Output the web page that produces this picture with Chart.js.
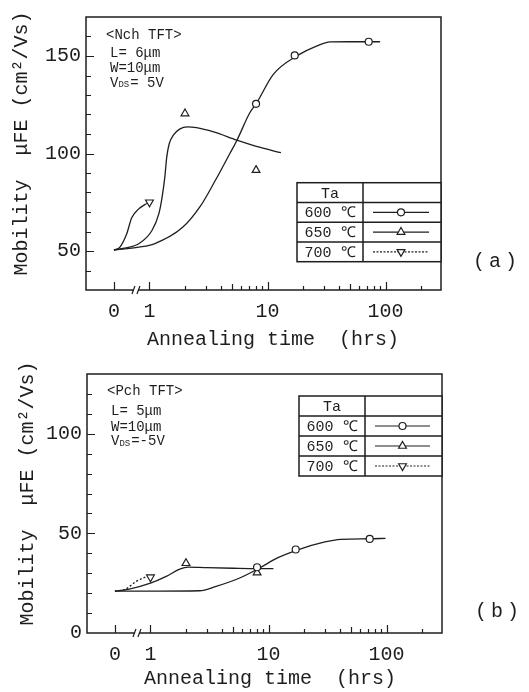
<!DOCTYPE html>
<html>
<head>
<meta charset="utf-8">
<title>Mobility vs annealing time</title>
<script src="https://cdn.jsdelivr.net/npm/chart.js@4.4.1/dist/chart.umd.min.js"></script>
<style>
  html, body { margin: 0; padding: 0; background: #fff; }
  #page { position: relative; width: 529px; height: 692px; overflow: hidden; }
  canvas { position: absolute; left: 0; }
  #chartA { top: 0; }
  #chartB { top: 350px; }
  .panel-tag { position: absolute; font: 20px 'Liberation Mono', 'DejaVu Sans Mono', monospace; letter-spacing: 4px; color: #1e1e1e; }
</style>
</head>
<body>
<div id="page">
  <canvas id="chartA" width="529" height="350"></canvas>
  <canvas id="chartB" width="529" height="342"></canvas>
  <div class="panel-tag" style="left:473px;top:250px">(a)</div>
  <div class="panel-tag" style="left:475px;top:600px">(b)</div>
</div>
<script>
// ---- data ----

// x axis: hours, "0" sits on the broken part left of 1
const xTickHours = [0, 1, 2, 3, 4, 5, 6, 7, 8, 9, 10, 20, 30, 40, 50, 60, 70, 80, 90, 100, 200];
const xTickLabels = { 0: '0', 1: '1', 10: '10', 100: '100' };
const tempLabels = ['600 ℃', '650 ℃', '700 ℃'];
const X_TITLE = 'Annealing time  (hrs)';
const Y_TITLE = 'Mobility  μFE (cm²/Vs)';

// (a) N-channel TFT
const nNotes = ['<Nch TFT>', 'L= 6μm', 'W=10μm', 'VDS= 5V'];
const nTime600 = [8, 17, 72];
const nMob600 = [125.5, 150.3, 157.3];
const nTime650 = [2, 8];
const nMob650 = [120.5, 91.5];
const nTime700 = [1];
const nMob700 = [75];

// fitted curves (a)
const nFitTime600 = [0, 0.7, 1.1, 1.9, 2.7, 3.6, 4.8, 5.5, 7.1, 8.1, 11.2, 18, 26, 34, 50, 90];
const nFitMob600 = [50.5, 52, 53.7, 62, 73, 86, 100, 106.7, 121, 126, 140.6, 150.3, 155.1, 157.2, 157.3, 157.3];
const nFitTime650 = [0, 0.3, 0.7, 1.05, 1.2, 1.28, 1.35, 1.4, 1.47, 1.6, 1.8, 2.1, 2.5, 3.5, 5.5, 8.7, 13];
const nFitMob650 = [50.5, 51.5, 53.7, 60.5, 69, 77.6, 88, 98, 105, 109.5, 112.5, 113.7, 113.3, 111.1, 106.9, 103.1, 100.4];
const nFitTime700 = [0, 0.17, 0.36, 0.5, 0.7, 0.87, 1];
const nFitMob700 = [50.5, 52, 58.8, 67, 71.6, 73.8, 75];

// (b) P-channel TFT
const pNotes = ['<Pch TFT>', 'L= 5μm', 'W=10μm', 'VDS=-5V'];
const pTime600 = [8, 17, 72];
const pMob600 = [33, 41.9, 47.2];
const pTime650 = [2, 8];
const pMob650 = [35, 30.3];
const pTime700 = [1];
const pMob700 = [28];

// fitted curves (b)
const pFitTime600 = [0, 1, 2.6, 3.6, 5.7, 8.4, 11.9, 18, 29.5, 41, 72, 98];
const pFitMob600 = [21, 21, 21.2, 23.4, 27.6, 32.6, 37.7, 41.9, 45.6, 47, 47.3, 47.5];
const pFitTime650 = [0, 0.4, 1, 1.36, 1.77, 2.1, 3, 5, 8, 11];
const pFitMob650 = [21, 22, 25, 28.4, 32.1, 33.1, 32.8, 32.5, 32.3, 32.3];
const pFitTime700 = [0, 0.3, 0.6, 0.87, 1];
const pFitMob700 = [21, 22, 25.9, 28.1, 28.8];

// ---- styling ----
const INK = '#1e1e1e';
const MONO = "'Liberation Mono', 'DejaVu Sans Mono', monospace";
const MARKERS = [
    { shape: 'circle', r: 3.5, rot: 0 },
    { shape: 'triangle', r: 4.5, rot: 0 },
    { shape: 'triangle', r: 4.5, rot: 180 }
];

// broken log axis: 0 h is drawn where 0.5 h would be, 0..1 h linear in between
const ZERO_AT = 0.5;
const X_MIN = 0.29;
const X_MAX = 295;

function axisPos(t) {
    return t >= 1 ? t : Math.pow(ZERO_AT, 1 - t);
}

function pts(xs, ys) {
    return xs.map((t, i) => ({ x: axisPos(t), y: ys[i] }));
}

function xLabelFor(v) {
    const h = xTickHours.find(h => Math.abs(axisPos(h) - v) < 1e-9);
    return h !== undefined && xTickLabels[h] ? xTickLabels[h] : '';
}

function markerSet(xs, ys, m) {
    return {
        data: pts(xs, ys),
        showLine: false,
        order: 0,
        pointStyle: m.shape,
        rotation: m.rot,
        pointRadius: m.r,
        pointHoverRadius: m.r,
        pointBackgroundColor: '#fff',
        pointBorderColor: INK,
        pointBorderWidth: 1.2
    };
}

function curveSet(xs, ys, dash) {
    return {
        data: pts(xs, ys),
        showLine: true,
        order: 1,
        pointRadius: 0,
        pointHoverRadius: 0,
        borderColor: INK,
        borderWidth: 1.3,
        borderDash: dash || [],
        cubicInterpolationMode: 'monotone'
    };
}

function drawMarker(ctx, m, x, y) {
    ctx.save();
    ctx.translate(x, y);
    ctx.rotate(m.rot * Math.PI / 180);
    ctx.beginPath();
    if (m.shape === 'circle') {
        ctx.arc(0, 0, m.r, 0, 2 * Math.PI);
    } else {
        ctx.moveTo(0, -m.r);
        ctx.lineTo(m.r * 0.866, m.r * 0.5);
        ctx.lineTo(-m.r * 0.866, m.r * 0.5);
        ctx.closePath();
    }
    ctx.setLineDash([]);
    ctx.fillStyle = '#fff';
    ctx.fill();
    ctx.lineWidth = 1.2;
    ctx.strokeStyle = INK;
    ctx.stroke();
    ctx.restore();
}

function drawNote(ctx, text, x, y) {
    ctx.font = '14px ' + MONO;
    if (text.startsWith('VDS')) {
        ctx.fillText('V', x, y);
        let w = ctx.measureText('V').width;
        ctx.font = '9px ' + MONO;
        ctx.fillText('DS', x + w, y + 2);
        w += ctx.measureText('DS').width + 1;
        ctx.font = '14px ' + MONO;
        ctx.fillText(text.slice(3), x + w, y);
    } else {
        ctx.fillText(text, x, y);
    }
}

// frame, inward ticks, axis break, legend table, notes and titles
const paperFrame = {
    id: 'paperFrame',
    afterDraw(chart, args, o) {
        const { ctx, chartArea: a } = chart;
        const xs = chart.scales.x;
        const ys = chart.scales.y;
        ctx.save();
        ctx.strokeStyle = INK;
        ctx.lineWidth = 1.5;
        ctx.strokeRect(a.left, a.top, a.right - a.left, a.bottom - a.top);

        ctx.lineWidth = 1.2;
        ctx.beginPath();
        xTickHours.forEach(h => {
            const px = Math.round(xs.getPixelForValue(axisPos(h))) + 0.5;
            const len = xTickLabels[h] ? 8 : (h === 5 || h === 50 ? 6 : 4);
            ctx.moveTo(px, a.bottom);
            ctx.lineTo(px, a.bottom - len);
        });
        ys.ticks.forEach(tk => {
            if (tk.value <= ys.min || tk.value >= ys.max) return;
            const py = Math.round(ys.getPixelForValue(tk.value)) + 0.5;
            const len = tk.value % 50 === 0 ? 8 : 5;
            ctx.moveTo(a.left, py);
            ctx.lineTo(a.left + len, py);
        });
        ctx.stroke();

        // axis break between 0 and 1
        const bx = xs.getPixelForValue(axisPos(0.62));
        ctx.fillStyle = '#fff';
        ctx.fillRect(bx - 2, a.bottom - 3, 4, 6);
        ctx.beginPath();
        ctx.moveTo(bx - 4, a.bottom + 4);
        ctx.lineTo(bx - 1, a.bottom - 4);
        ctx.moveTo(bx + 1, a.bottom + 4);
        ctx.lineTo(bx + 4, a.bottom - 4);
        ctx.stroke();

        // legend table
        const L = o.legend;
        const lx = a.right - L.width;
        const ly = L.top;
        const rh = L.height / 4;
        ctx.fillStyle = '#fff';
        ctx.fillRect(lx, ly, L.width, L.height);
        ctx.lineWidth = 1.5;
        ctx.strokeRect(lx, ly, L.width, L.height);
        ctx.beginPath();
        for (let i = 1; i < 4; i++) {
            ctx.moveTo(lx, ly + i * rh);
            ctx.lineTo(lx + L.width, ly + i * rh);
        }
        ctx.moveTo(lx + L.split, ly);
        ctx.lineTo(lx + L.split, ly + L.height);
        ctx.stroke();

        ctx.fillStyle = INK;
        ctx.font = '15px ' + MONO;
        ctx.textAlign = 'center';
        ctx.textBaseline = 'middle';
        ctx.fillText('Ta', lx + L.split / 2, ly + rh / 2 + 1);
        tempLabels.forEach((lab, i) => {
            const cy = ly + (i + 1.5) * rh;
            ctx.fillStyle = INK;
            ctx.font = '15px ' + MONO;
            ctx.fillText(lab, lx + L.split / 2, cy + 1);
            const x0 = lx + L.split + 10;
            const x1 = lx + L.width - 12;
            ctx.lineWidth = 1.1;
            ctx.setLineDash(i === 2 ? [2, 1.5] : []);
            ctx.beginPath();
            ctx.moveTo(x0, cy);
            ctx.lineTo(x1, cy);
            ctx.stroke();
            drawMarker(ctx, MARKERS[i], (x0 + x1) / 2, cy);
        });
        ctx.setLineDash([]);

        // sample notes
        ctx.fillStyle = INK;
        ctx.textAlign = 'left';
        o.notes.forEach((n, i) => drawNote(ctx, n, a.left + o.noteDx[i], a.top + o.noteDy[i]));

        // axis titles
        ctx.font = '20px ' + MONO;
        ctx.textAlign = 'center';
        ctx.fillText(X_TITLE, o.xTitle[0], o.xTitle[1]);
        ctx.translate(o.yTitle[0], o.yTitle[1]);
        ctx.rotate(-Math.PI / 2);
        ctx.fillText(Y_TITLE, 0, 0);
        ctx.restore();
    }
};

function makeChart(id, cfg) {
    return new Chart(document.getElementById(id), {
        type: 'scatter',
        data: { datasets: cfg.datasets },
        options: {
            responsive: false,
            animation: false,
            events: [],
            layout: { padding: cfg.padding },
            plugins: {
                legend: { display: false },
                tooltip: { enabled: false },
                paperFrame: cfg.frame
            },
            scales: {
                x: {
                    type: 'logarithmic',
                    min: X_MIN,
                    max: X_MAX,
                    bounds: 'data',
                    grid: { display: false, drawTicks: false },
                    border: { display: false },
                    afterBuildTicks: s => { s.ticks = xTickHours.map(h => ({ value: axisPos(h) })); },
                    afterFit: s => { s.height = cfg.xAxisHeight; },
                    ticks: {
                        autoSkip: false,
                        maxRotation: 0,
                        padding: 10,
                        color: INK,
                        font: { family: MONO, size: 20 },
                        callback: v => xLabelFor(v)
                    }
                },
                y: {
                    min: cfg.yMin,
                    max: cfg.yMax,
                    grid: { display: false, drawTicks: false },
                    border: { display: false },
                    afterFit: s => { s.width = cfg.yAxisWidth; },
                    ticks: {
                        stepSize: 10,
                        autoSkip: false,
                        padding: 5,
                        color: INK,
                        font: { family: MONO, size: 20 },
                        callback: v => (v % 50 === 0 ? String(v) : '')
                    }
                }
            }
        },
        plugins: [paperFrame]
    });
}

makeChart('chartA', {
    yMin: 30, yMax: 170,
    padding: { left: 0, top: 17, right: 88, bottom: 0 },
    yAxisWidth: 86,
    xAxisHeight: 60,
    datasets: [
        curveSet(nFitTime600, nFitMob600),
        curveSet(nFitTime650, nFitMob650),
        curveSet(nFitTime700, nFitMob700),
        markerSet(nTime600, nMob600, MARKERS[0]),
        markerSet(nTime650, nMob650, MARKERS[1]),
        markerSet(nTime700, nMob700, MARKERS[2])
    ],
    frame: {
        legend: { top: 182.7, width: 144, height: 79, split: 66 },
        notes: nNotes,
        noteDx: [20, 24, 24, 24],
        noteDy: [18, 36, 51, 66],
        xTitle: [273, 340],
        yTitle: [22, 143.5]
    }
});

makeChart('chartB', {
    yMin: 0, yMax: 130,
    padding: { left: 0, top: 24, right: 87, bottom: 0 },
    yAxisWidth: 87,
    xAxisHeight: 59,
    datasets: [
        curveSet(pFitTime600, pFitMob600),
        curveSet(pFitTime650, pFitMob650),
        curveSet(pFitTime700, pFitMob700, [2, 2]),
        markerSet(pTime600, pMob600, MARKERS[0]),
        markerSet(pTime650, pMob650, MARKERS[1]),
        markerSet(pTime700, pMob700, MARKERS[2])
    ],
    frame: {
        legend: { top: 46, width: 143, height: 80, split: 66 },
        notes: pNotes,
        noteDx: [20, 24, 24, 24],
        noteDy: [17.4, 37.4, 53, 67.4],
        xTitle: [270, 329],
        yTitle: [28, 143.5]
    }
});
</script>
</body>
</html>
